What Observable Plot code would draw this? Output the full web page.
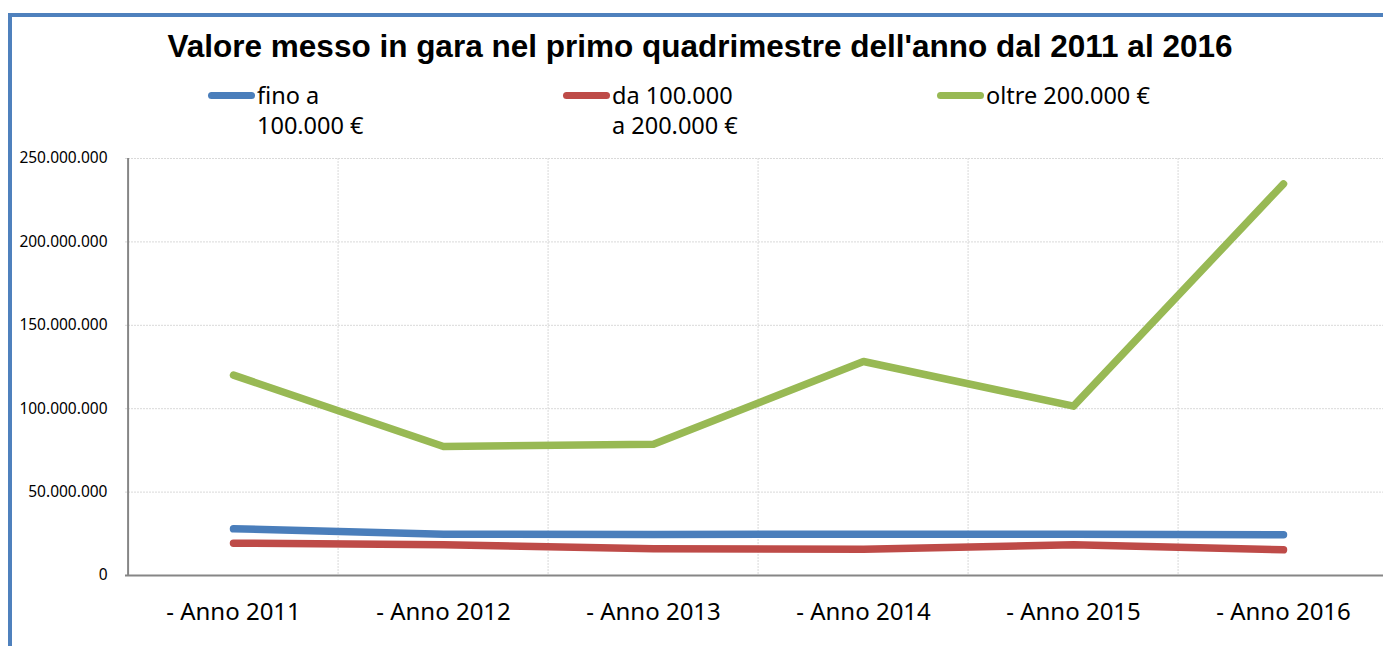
<!DOCTYPE html>
<html><head><meta charset="utf-8">
<script src="https://cdn.jsdelivr.net/npm/d3@7"></script>
<script src="https://cdn.jsdelivr.net/npm/@observablehq/plot@0.6"></script>
<style>
html,body{margin:0;padding:0;background:#fff;overflow:hidden;}
#wrap{position:relative;width:1383px;height:646px;overflow:hidden;font-family:"Noto Sans",sans-serif;background:#fff;}
#chart{position:absolute;left:0;top:0;}
#border{position:absolute;left:8px;top:13px;width:1500px;height:700px;border-top:4px solid #4f81bd;border-left:4px solid #4f81bd;box-sizing:border-box;pointer-events:none;}
#title{position:absolute;left:0;width:1400px;text-align:center;top:28px;font:bold 31.5px "Liberation Sans",Arial,sans-serif;white-space:nowrap;color:#000;line-height:normal;}
.leg{position:absolute;top:80px;font-size:23.5px;line-height:30px;color:#000;white-space:pre-line;}
.sw{position:absolute;width:47px;height:7px;border-radius:4px;top:92px;}
</style>
</head><body>
<div id="wrap">
  <div id="chart"></div>
  <div id="title"></div>
  <div id="legend"></div>
  <div id="border"></div>
</div>
<script>
// ---- data ----
const titleText = "Valore messo in gara nel primo quadrimestre dell'anno dal 2011 al 2016";
const years = ["- Anno 2011", "- Anno 2012", "- Anno 2013", "- Anno 2014", "- Anno 2015", "- Anno 2016"];
const seriesKeys = ["fino a 100.000 €", "da 100.000 a 200.000 €", "oltre 200.000 €"];
const seriesLegendLabels = ["fino a\n100.000 €", "da 100.000\na 200.000 €", "oltre 200.000 €"];
const seriesColors = ["#4a7ebb", "#be4b48", "#98b954"];
const valFino = [28.0e6, 24.8e6, 24.6e6, 24.8e6, 24.8e6, 24.4e6];
const valDa = [19.4e6, 18.4e6, 16.0e6, 15.8e6, 18.4e6, 15.4e6];
const valOltre = [120.1e6, 77.3e6, 78.7e6, 128.3e6, 101.5e6, 234.8e6];
const yTicks = [0, 50e6, 100e6, 150e6, 200e6, 250e6];

// ---- build table ----
const seriesValues = [valFino, valDa, valOltre];
const rows = [];
seriesKeys.forEach((s, i) => years.forEach((y, j) => rows.push({series: s, year: y, value: seriesValues[i][j]})));

// ---- layout ----
const W = 1395, H = 646, mL = 125, mR = 5, mT = 158, mB = 71;
const step = (W - mL - mR) / years.length;
const legendX = [208, 563, 937];

const fmt = d3.formatLocale({decimal: ",", thousands: ".", grouping: [3], currency: ["", " €"]}).format(",.0f");

const chart = Plot.plot({
  width: W, height: H,
  marginLeft: mL, marginRight: mR, marginTop: mT, marginBottom: mB,
  style: {fontFamily: '"Noto Sans", sans-serif', background: "transparent", color: "#000", maxWidth: "none", overflow: "visible"},
  x: {type: "point", domain: years, padding: 0.5, label: null},
  y: {domain: [0, 250e6], label: null},
  color: {domain: seriesKeys, range: seriesColors},
  marks: [
    Plot.ruleY(yTicks.slice(1), {stroke: "#d9d9d9", strokeDasharray: "2,1"}),
    Plot.ruleX(years.slice(1), {dx: -step / 2, stroke: "#d9d9d9", strokeDasharray: "2,1"}),
    Plot.ruleX(years.slice(0, 1), {dx: -step / 2, stroke: "#868686", strokeWidth: 2}),
    Plot.ruleY([0], {stroke: "#868686", strokeWidth: 2}),
    Plot.axisY(yTicks, {tickSize: 0, tickPadding: 18, tickFormat: fmt, fontSize: 15.5, label: null}),
    Plot.axisX({tickSize: 0, tickPadding: 27, fontSize: 24, label: null}),
    Plot.line(rows, {x: "year", y: "value", z: "series", stroke: "series", strokeWidth: 7.5, strokeLinecap: "round", strokeLinejoin: "round"})
  ]
});
document.getElementById("chart").appendChild(chart);
document.getElementById("title").textContent = titleText;

const leg = document.getElementById("legend");
seriesLegendLabels.forEach((lab, i) => {
  const sw = document.createElement("div");
  sw.className = "sw";
  sw.style.left = legendX[i] + "px";
  sw.style.background = seriesColors[i];
  leg.appendChild(sw);
  const t = document.createElement("div");
  t.className = "leg";
  t.style.left = (legendX[i] + 49) + "px";
  t.textContent = lab;
  leg.appendChild(t);
});
</script>
</body></html>
